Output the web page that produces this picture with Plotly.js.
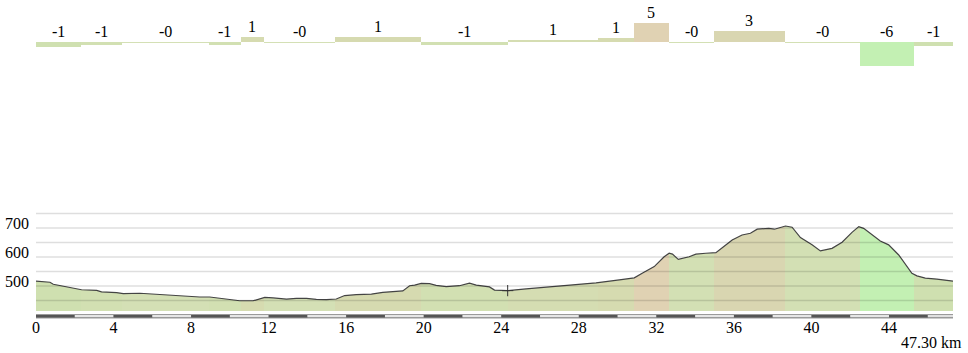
<!DOCTYPE html>
<html>
<head>
<meta charset="utf-8">
<script src="https://cdn.plot.ly/plotly-3.0.1.min.js"></script>
<style>html,body{margin:0;padding:0;background:#fff;}#chart{width:968px;height:353px;}</style>
</head>
<body>
<div id="chart"></div>
<script>
// ---- data ----
const totalKm = 47.3;
const profileKm = [0, 0.72, 0.89, 1.58, 2.35, 3.13, 3.38, 4.16, 4.50, 5.36, 6.04, 6.56, 7.07, 7.76, 8.45, 8.96, 9.82, 10.51, 11.20, 11.45, 11.80, 12.23, 12.92, 13.43, 13.95, 14.46, 14.98, 15.49, 15.92, 16.52, 17.30, 17.89, 18.41, 18.92, 19.27, 19.53, 19.87, 20.30, 20.64, 21.16, 21.84, 22.36, 22.71, 23.04, 23.39, 23.65, 24.33, 25.28, 26.48, 27.68, 28.89, 30.09, 30.86, 31.29, 31.89, 32.40, 32.66, 32.83, 33.13, 33.69, 34.04, 34.55, 35.07, 35.48, 35.91, 36.42, 36.85, 37.20, 37.80, 38.09, 38.31, 38.66, 39.00, 39.43, 40.03, 40.46, 41.06, 41.58, 42.09, 42.44, 42.69, 43.21, 43.55, 43.98, 44.50, 45.18, 45.44, 45.87, 46.47, 47.30];
const profileElev = [517, 513, 506, 498, 487, 485, 480, 477, 474, 475, 472, 471, 467, 464, 462, 462, 456, 449, 449, 454, 461, 459, 455, 457, 457, 454, 453, 455, 467, 470, 472, 478, 480, 483, 501, 503, 509, 508, 502, 498, 501, 510, 503, 501, 497, 486, 484, 490, 497, 504, 511, 521, 528, 545, 567, 601, 613, 610, 592, 601, 610, 613, 615, 636, 659, 676, 682, 696, 699, 696, 701, 707, 703, 667, 642, 621, 630, 651, 685, 705, 699, 674, 655, 642, 607, 544, 535, 527, 524, 517];
const segBounds = [0, 2.32, 4.41, 8.93, 10.56, 11.75, 15.40, 19.84, 24.33, 28.97, 30.84, 32.65, 34.95, 38.62, 42.50, 45.29, 47.3];
const segGrade = [-1.1, -0.6, -0.2, -0.6, 1.3, -0.2, 1.4, -0.6, 0.7, 1.1, 5.0, -0.1, 3.0, -0.1, -6.1, -1.0];
const segColors = ['#cfe0b0', '#d2e0b2', '#d4e0b5', '#d2e0b2', '#d6dbb0', '#d4e0b5', '#d6dab0', '#d2e0b2', '#d5ddb2', '#d6dbb0', '#e0d2b3', '#d3e0b4', '#d9d6b1', '#d3e0b4', '#c3f0b3', '#cfe0b0'];
const markerKm = [24.33];
const markerElev = [484];
const xTickVals = [0, 4, 8, 12, 16, 20, 24, 28, 32, 36, 40, 44];
const yTickVals = [500, 600, 700];
const yGridVals = [450, 500, 550, 600, 650, 700, 750];

// ---- layout constants ----
const W = 968, H = 353;
const mL = 36, mR = 15, mT = 0, mB = 42;
const paperH = H - mT - mB;
const py = px => (paperH - (px - mT)) / paperH; // pixel row -> paper fraction
const yRange = [413.7, 762.3];
const y2Range = [-7.23, 8.48];
const serif = 'Liberation Serif, Times New Roman, serif';
const fs = 16;

const segMid = [], segLen = [];
for (let i = 0; i < segGrade.length; i++) {
  segMid.push((segBounds[i] + segBounds[i + 1]) / 2);
  segLen.push(segBounds[i + 1] - segBounds[i]);
}
const gradeLabel = g => (g < 0 ? '-' : '') + Math.round(Math.abs(g));
const bandBase = 380, bandTop = 820;

const traces = [
  {type: 'bar', x: segMid, width: segLen, y: segMid.map(() => bandTop - bandBase), base: bandBase,
   marker: {color: segColors, line: {width: 0}}, xaxis: 'x', yaxis: 'y', hoverinfo: 'skip', showlegend: false},
  {type: 'bar', x: segMid, width: segLen, y: segGrade,
   marker: {color: segColors, line: {width: 0}}, xaxis: 'x', yaxis: 'y2', hoverinfo: 'skip', showlegend: false},
  {type: 'scatter', mode: 'lines', x: [0, totalKm], y: [bandTop, bandTop], line: {width: 0, color: 'rgba(0,0,0,0)'},
   xaxis: 'x', yaxis: 'y', hoverinfo: 'skip', showlegend: false},
  {type: 'scatter', mode: 'lines', x: profileKm, y: profileElev, fill: 'tonexty', fillcolor: '#ffffff',
   line: {color: '#444444', width: 1.2}, xaxis: 'x', yaxis: 'y', hoverinfo: 'skip', showlegend: false},
  {type: 'scatter', mode: 'markers', x: markerKm, y: markerElev,
   marker: {symbol: 'cross-thin', size: 8, line: {color: '#333', width: 1}},
   xaxis: 'x', yaxis: 'y', hoverinfo: 'skip', showlegend: false}
];

const shapes = [];
yGridVals.forEach(v => shapes.push({type: 'line', xref: 'paper', yref: 'y', x0: 0, x1: 1, y0: v, y1: v,
  line: {color: 'rgba(0,0,0,0.13)', width: 1.5}, layer: 'above'}));
shapes.push({type: 'rect', xref: 'x', yref: 'paper', x0: 0, x1: totalKm, y0: py(318.4), y1: py(314), fillcolor: '#9a9a9a', line: {width: 0}, layer: 'above'});
for (let k = 0; k < totalKm; k += 4) {
  shapes.push({type: 'rect', xref: 'x', yref: 'paper', x0: k, x1: Math.min(k + 2, totalKm), y0: py(317.4), y1: py(314.9), fillcolor: '#555555', line: {width: 0}, layer: 'above'});
  if (k + 2 < totalKm)
    shapes.push({type: 'rect', xref: 'x', yref: 'paper', x0: k + 2, x1: Math.min(k + 4, totalKm), y0: py(316.7), y1: py(315.3), fillcolor: '#ffffff', line: {width: 0}, layer: 'above'});
}

const annotations = segGrade.map((g, i) => ({
  xref: 'x', yref: 'y2', x: segMid[i], y: Math.max(g, 0), yanchor: 'bottom', xanchor: 'center', yshift: 0,
  text: gradeLabel(g), showarrow: false, font: {family: serif, size: fs, color: '#000'}
}));
annotations.push({xref: 'paper', yref: 'paper', x: 1, y: py(342), xanchor: 'right', yanchor: 'middle', xshift: 11,
  text: totalKm.toFixed(2) + ' km', showarrow: false, font: {family: serif, size: fs, color: '#000'}});

const layout = {
  width: W, height: H,
  margin: {l: mL, r: mR, t: mT, b: mB, pad: 0},
  paper_bgcolor: '#fff', plot_bgcolor: 'rgba(0,0,0,0)',
  barmode: 'overlay', bargap: 0,
  showlegend: false,
  font: {family: serif, size: fs, color: '#000'},
  xaxis: {range: [0, totalKm], domain: [0, 1], anchor: 'y', tickmode: 'array', tickvals: xTickVals,
    showgrid: false, zeroline: false, showline: false, ticks: '', ticklabelstandoff: 5,
    tickfont: {family: serif, size: fs, color: '#000'}, fixedrange: true},
  yaxis: {range: yRange, domain: [0, 101 / paperH], anchor: 'x', tickmode: 'array', tickvals: yTickVals,
    showgrid: false, zeroline: false, showline: false, ticks: '', ticklabelstandoff: 6, ticklabelshift: -5,
    tickfont: {family: serif, size: fs, color: '#000'}, fixedrange: true},
  yaxis2: {range: y2Range, domain: [py(70), py(10)], anchor: 'x', showgrid: false, zeroline: false,
    showline: false, showticklabels: false, ticks: '', fixedrange: true},
  shapes: shapes,
  annotations: annotations
};

Plotly.newPlot('chart', traces, layout, {displayModeBar: false, staticPlot: true});
</script>
</body>
</html>
